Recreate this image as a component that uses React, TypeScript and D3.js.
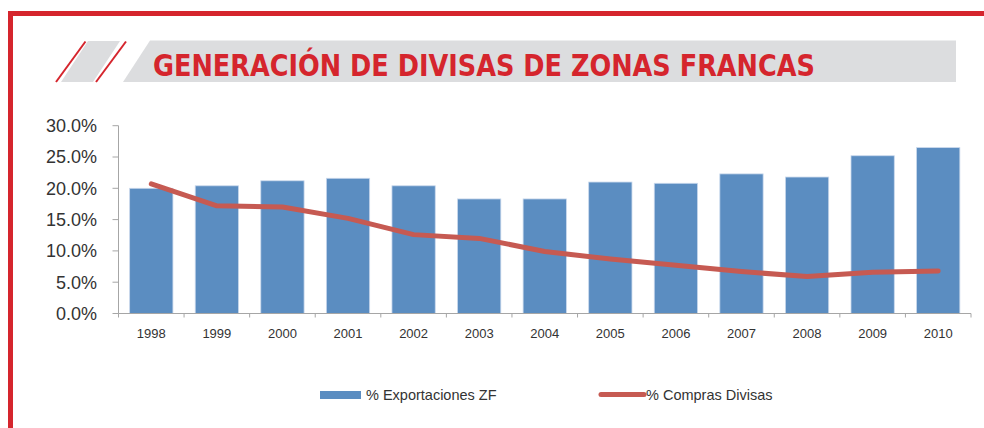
import React, { useEffect, useRef } from 'react'
import * as d3 from 'd3'

const years = ['1998', '1999', '2000', '2001', '2002', '2003', '2004', '2005', '2006', '2007', '2008', '2009', '2010']
const exportaciones = [20.0, 20.4, 21.2, 21.6, 20.4, 18.3, 18.3, 21.0, 20.8, 22.3, 21.8, 25.2, 26.5]
const comprasDivisas = [20.7, 17.2, 17.0, 15.2, 12.6, 12.0, 9.9, 8.7, 7.7, 6.7, 5.9, 6.6, 6.8]
const yTicks = [0, 5, 10, 15, 20, 25, 30]
const title = 'GENERACIÓN DE DIVISAS DE ZONAS FRANCAS'
const legendLabels = ['% Exportaciones ZF', '% Compras Divisas']

const W = 984
const H = 428
const RED = '#d5252d'
const BAR = '#5b8dc1'
const LINE = '#c65a52'
const GRAY = '#dcdddf'
const AXIS = '#a6a6a6'
const TEXT = '#333333'

export default function App() {
  const ref = useRef<SVGSVGElement | null>(null)

  useEffect(() => {
    if (!ref.current) return
    const svg = d3.select(ref.current)
    svg.selectAll('*').remove()

    // frame
    svg.append('rect').attr('x', 8).attr('y', 11).attr('width', W - 8).attr('height', 5).attr('fill', RED)
    svg.append('rect').attr('x', 8).attr('y', 11).attr('width', 5).attr('height', H - 11).attr('fill', RED)

    // title band
    const band = svg.append('g')
    band.append('path').attr('d', 'M61,82 L93,82 L120,41 L88,41 Z').attr('fill', GRAY)
    band.append('line').attr('x1', 56).attr('y1', 82).attr('x2', 85.5).attr('y2', 41.5)
      .attr('stroke', RED).attr('stroke-width', 2)
    band.append('line').attr('x1', 96).attr('y1', 82).attr('x2', 126).attr('y2', 41.5)
      .attr('stroke', RED).attr('stroke-width', 2)
    band.append('path').attr('d', 'M123,82 L956,82 L956,40.5 L150,40.5 Z').attr('fill', GRAY)
    band.append('text')
      .attr('x', 153).attr('y', 76)
      .attr('font-family', '"DejaVu Sans Condensed", "Liberation Sans Narrow", sans-serif')
      .attr('font-weight', 'bold').attr('font-size', 31)
      .attr('fill', RED)
      .attr('textLength', 662).attr('lengthAdjust', 'spacingAndGlyphs')
      .text(title)

    // chart
    const x = d3.scaleBand<string>().domain(years).range([118.5, 971]).paddingInner(0.34).paddingOuter(0.17)
    const y = d3.scaleLinear().domain([0, 30]).range([313.5, 125.7])
    const step = x.step()
    const x0 = x.range()[0]

    const g = svg.append('g')

    // y axis
    g.append('line').attr('x1', x0).attr('x2', x0).attr('y1', y(30)).attr('y2', y(0)).attr('stroke', AXIS)
    g.selectAll('line.ytick').data(yTicks).join('line').attr('class', 'ytick')
      .attr('x1', x0 - 6).attr('x2', x0).attr('y1', (d) => y(d)).attr('y2', (d) => y(d)).attr('stroke', AXIS)
    g.selectAll('text.ylab').data(yTicks).join('text').attr('class', 'ylab')
      .attr('x', 97).attr('y', (d) => y(d)).attr('dy', '0.36em')
      .attr('text-anchor', 'end')
      .attr('font-family', '"Liberation Sans", Arial, sans-serif').attr('font-size', 18)
      .attr('fill', TEXT)
      .text((d) => d3.format('.1f')(d) + '%')

    // bars
    g.selectAll('rect.bar').data(years).join('rect').attr('class', 'bar')
      .attr('x', (d) => x(d)!)
      .attr('y', (d, i) => y(exportaciones[i]))
      .attr('width', x.bandwidth())
      .attr('height', (d, i) => y(0) - y(exportaciones[i]))
      .attr('fill', BAR)
      .attr('stroke', '#c9d8ec').attr('stroke-width', 0.8)

    // x axis
    g.append('line').attr('x1', x0).attr('x2', x.range()[1]).attr('y1', y(0)).attr('y2', y(0)).attr('stroke', AXIS)
    g.selectAll('line.xtick').data(d3.range(years.length + 1)).join('line').attr('class', 'xtick')
      .attr('x1', (i) => x0 + i * step).attr('x2', (i) => x0 + i * step)
      .attr('y1', y(0)).attr('y2', y(0) + 4).attr('stroke', AXIS)
    g.selectAll('text.xlab').data(years).join('text').attr('class', 'xlab')
      .attr('x', (d) => x(d)! + x.bandwidth() / 2).attr('y', 338)
      .attr('text-anchor', 'middle')
      .attr('font-family', '"Liberation Sans", Arial, sans-serif').attr('font-size', 13)
      .attr('fill', TEXT)
      .text((d) => d)

    // line
    const line = d3.line<number>()
      .x((d, i) => x(years[i])! + x.bandwidth() / 2)
      .y((d) => y(d))
    g.append('path').attr('d', line(comprasDivisas)!)
      .attr('fill', 'none').attr('stroke', LINE).attr('stroke-width', 5)
      .attr('stroke-linejoin', 'round').attr('stroke-linecap', 'round')

    // legend
    const lg = svg.append('g')
      .attr('font-family', '"Liberation Sans", Arial, sans-serif').attr('font-size', 14.5)
      .attr('fill', TEXT)
    lg.append('rect').attr('x', 320).attr('y', 391).attr('width', 41).attr('height', 8).attr('fill', BAR)
    lg.append('text').attr('x', 366).attr('y', 399.5).text(legendLabels[0])
    lg.append('line').attr('x1', 601).attr('x2', 644).attr('y1', 394.5).attr('y2', 394.5)
      .attr('stroke', LINE).attr('stroke-width', 5).attr('stroke-linecap', 'round')
    lg.append('text').attr('x', 646).attr('y', 399.5).text(legendLabels[1])
  }, [])

  return (
    <svg
      ref={ref}
      width={W}
      height={H}
      style={{ position: 'absolute', left: 0, top: 0, background: '#fff' }}
    />
  )
}
